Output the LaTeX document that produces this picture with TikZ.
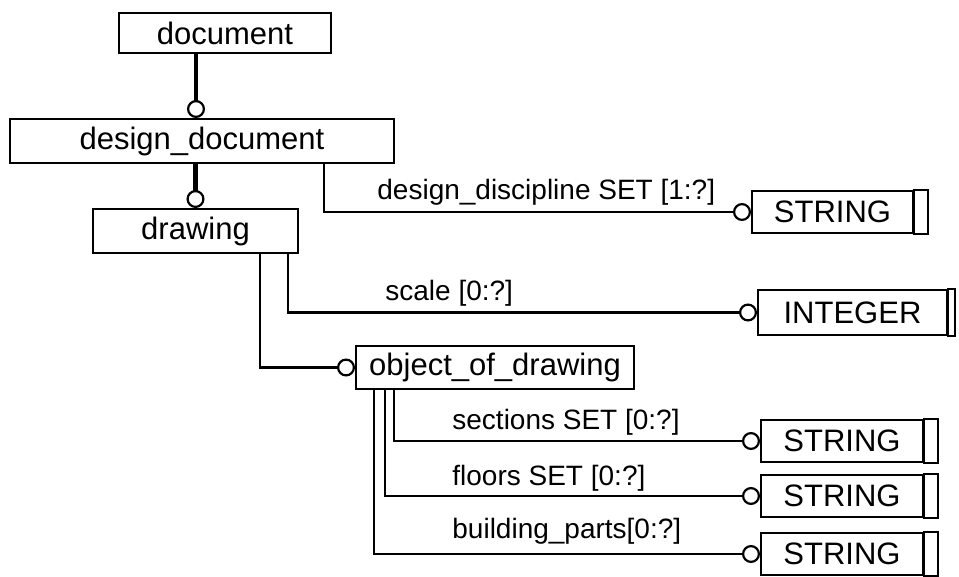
\documentclass[tikz,border=0pt]{standalone}
\usepackage{fontspec}
\setmainfont{Liberation Sans}
\usetikzlibrary{arrows.meta}

\tikzset{
  ent/.style={draw, line width=1pt, inner sep=0pt, minimum height=21pt,
    font=\fontsize{15.5}{18}\selectfont},
  rel/.style={line width=1.1pt, -{Circle[open,length=9pt,line width'=1.1pt]}},
  suprel/.style={rel, line width=2.4pt},
  lbl/.style={anchor=west, inner sep=0pt, font=\fontsize{14}{16}\selectfont}
}

\begin{document}
\begin{tikzpicture}[x=0.5pt,y=-0.5pt]
\useasboundingbox (0,0) rectangle (959,577);

% entities
\node[ent, minimum width=106pt, minimum height=20pt] (doc) at (225,33) {document};
\node[ent, minimum width=192pt, minimum height=22pt] (desdoc) at (202,141) {design\_document};
\node[ent, minimum width=102.5pt, minimum height=22pt] (drw) at (195.5,231) {drawing};
\node[ent, minimum width=139pt, minimum height=21.5pt] (obj) at (495,367.5) {object\_of\_drawing};

% simple types
\node[ent, minimum width=80.5pt] (str1) at (832.5,212) {STRING};
\node[ent, minimum width=94.5pt, minimum height=22.5pt] (int) at (852.5,312.5) {INTEGER};
\node[ent, minimum width=81pt] (str2) at (842,441) {STRING};
\node[ent, minimum width=81pt] (str3) at (842,496) {STRING};
\node[ent, minimum width=81pt] (str4) at (842,554) {STRING};
\foreach \n in {str1,str2,str3,str4}
  \draw[line width=1pt] (\n.north east) rectangle ([xshift=7pt]\n.south east);
\draw[line width=1pt] (int.north east) rectangle ([xshift=3.5pt]int.south east);

% relations
\draw[suprel] ([xshift=-3pt]desdoc.north |- doc.south) -- ([xshift=-3pt]desdoc.north);
\draw[suprel] (desdoc.south -| drw.north) -- (drw.north);
\draw[rel] (desdoc.south east) ++(-71,0) |- (str1.west);
\draw[rel] (drw.south east) ++(-11,0) |- (int.west);
\draw[rel] (drw.south east) ++(-39,0) |- (obj.west);
\draw[rel] (obj.south west) ++(39,0) |- (str2.west);
\draw[rel] (obj.south west) ++(30,0) |- (str3.west);
\draw[rel] (obj.south west) ++(19,0) |- (str4.west);

\node[lbl] at (377,192) {design\_discipline SET [1:?]};
\node[lbl] at (385,293) {scale [0:?]};
\node[lbl] at (452,422) {sections SET [0:?]};
\node[lbl] at (452,478) {floors SET [0:?]};
\node[lbl] at (452,531) {building\_parts[0:?]};

\end{tikzpicture}
\end{document}
